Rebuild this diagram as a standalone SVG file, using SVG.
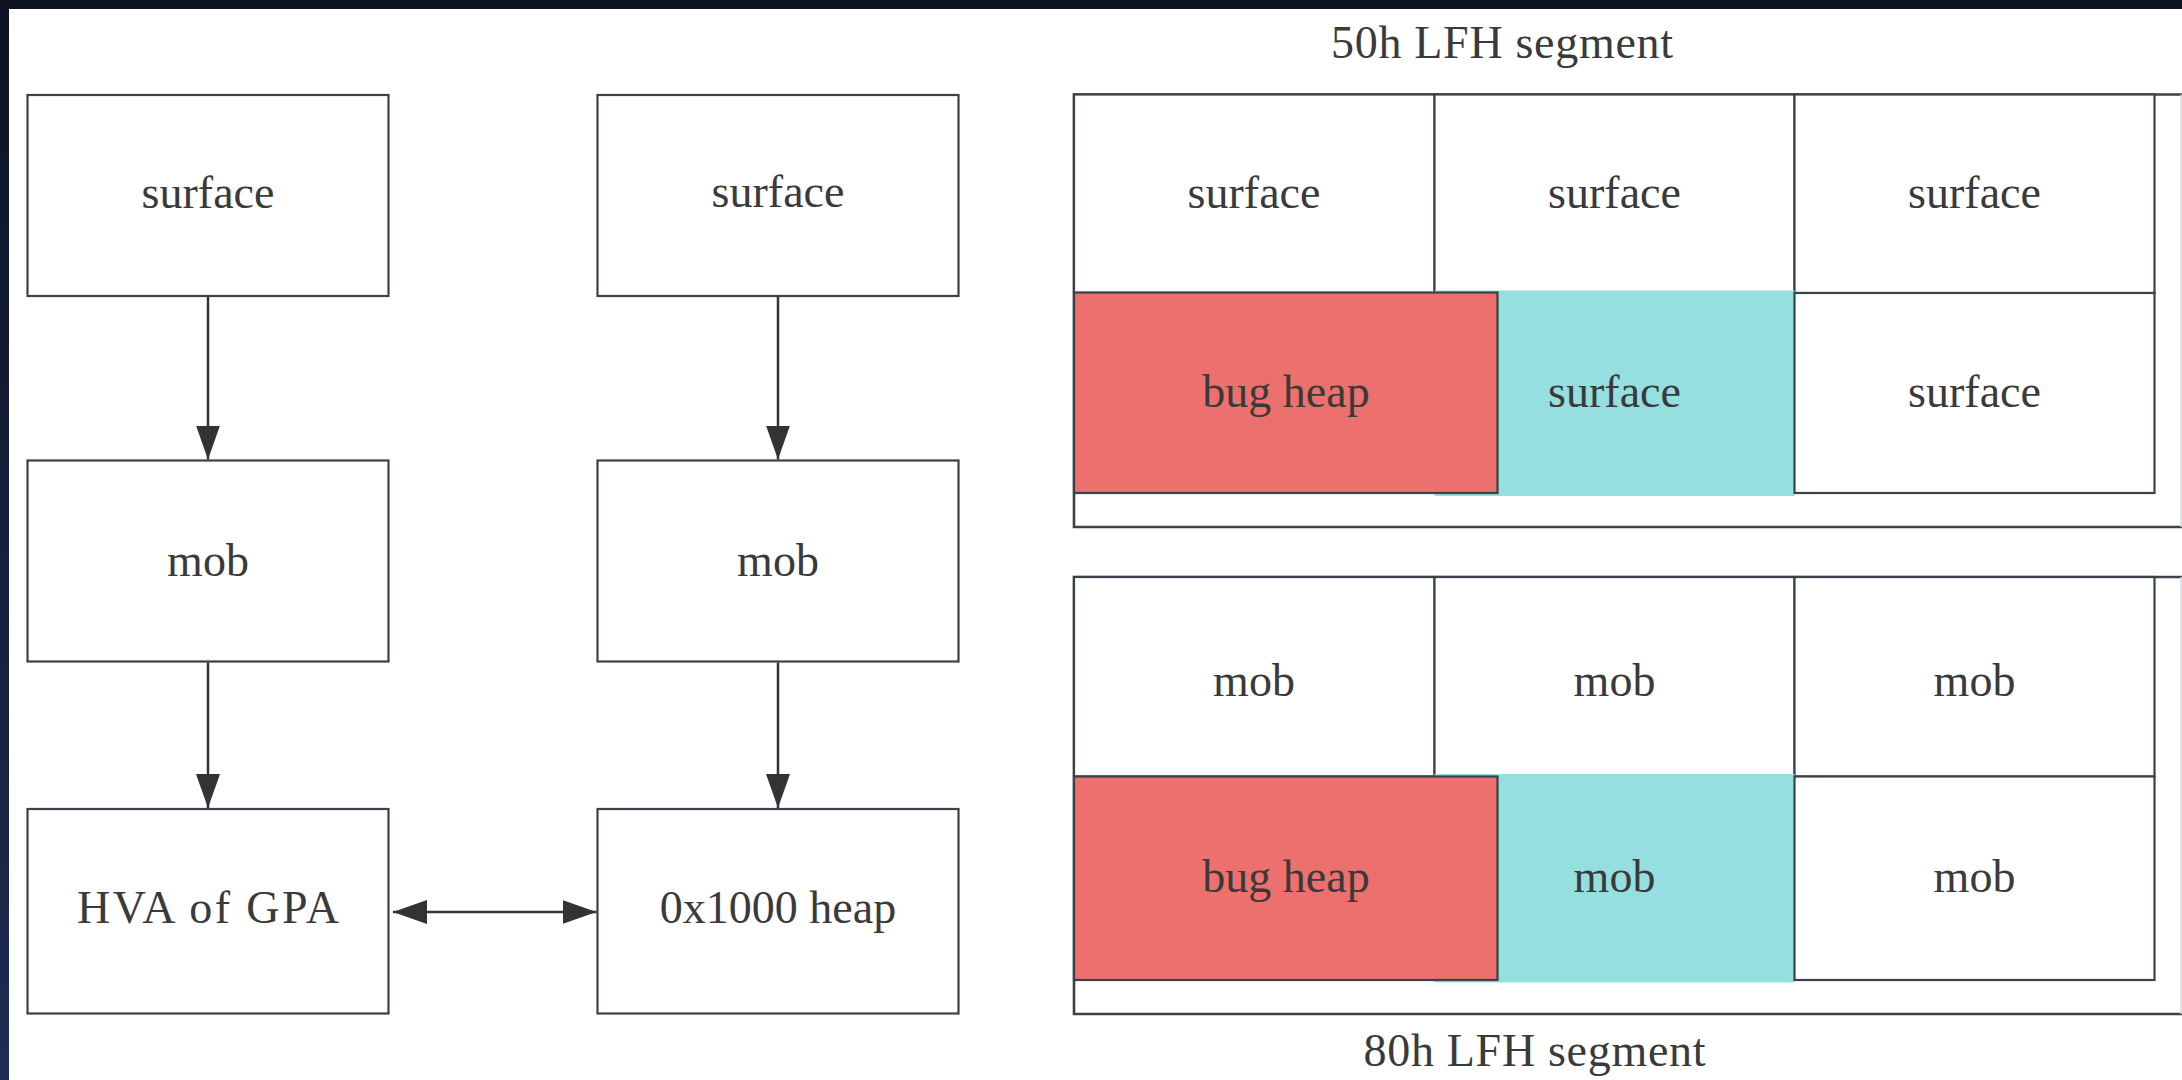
<svg xmlns="http://www.w3.org/2000/svg" width="2182" height="1080" viewBox="0 0 2182 1080">
  <defs>
    <linearGradient id="sideGrad" x1="0" y1="0" x2="0" y2="1">
      <stop offset="0" stop-color="#0e1322"/>
      <stop offset="1" stop-color="#1e2c54"/>
    </linearGradient>
    <marker id="arrow" markerUnits="userSpaceOnUse" markerWidth="34" markerHeight="24" refX="34" refY="12" orient="auto-start-reverse" viewBox="0 0 34 24">
      <path d="M0,0 L34,12 L0,24 Z" fill="#333333"/>
    </marker>
    <style>
      .box { fill: #ffffff; stroke: #3b4148; stroke-width: 2.2; }
      .cell { fill: #ffffff; stroke: #3b4148; stroke-width: 2.2; }
      .frame { fill: none; stroke: #3b4148; stroke-width: 2.6; }
      .bug { fill: #ec706d; stroke: #3b4148; stroke-width: 2.2; }
      .hl { fill: #95dfe0; stroke: none; }
      .lbl { font-family: "Liberation Serif", "Times New Roman", serif; font-size: 46px; fill: #3a3a3a; text-anchor: middle; }
      .conn { stroke: #333333; stroke-width: 2.5; fill: none; }
    </style>
  </defs>

  <rect x="0" y="0" width="2182" height="1080" fill="#ffffff"/>
  <rect x="0" y="0" width="2182" height="9" fill="#0e1322"/>
  <rect x="0" y="0" width="9" height="1080" fill="url(#sideGrad)"/>

  <!-- Left flow column -->
  <g id="surface-a">
    <rect class="box" x="27.5" y="95" width="361" height="201"/>
    <text class="lbl" x="208" y="208">surface</text>
  </g>
  <g id="mob-a">
    <rect class="box" x="27.5" y="460.5" width="361" height="201"/>
    <text class="lbl" x="208" y="576">mob</text>
  </g>
  <g id="hva">
    <rect class="box" x="27.5" y="809" width="361" height="204.5"/>
    <text class="lbl" x="208" y="923" textLength="262" lengthAdjust="spacing">HVA of GPA</text>
  </g>

  <!-- Second flow column -->
  <g id="surface-b">
    <rect class="box" x="597.5" y="95" width="361" height="201"/>
    <text class="lbl" x="778" y="207">surface</text>
  </g>
  <g id="mob-b">
    <rect class="box" x="597.5" y="460.5" width="361" height="201"/>
    <text class="lbl" x="778" y="576">mob</text>
  </g>
  <g id="heap">
    <rect class="box" x="597.5" y="809" width="361" height="204.5"/>
    <text class="lbl" x="778" y="923">0x1000 heap</text>
  </g>

  <!-- Connectors -->
  <g id="connectors">
    <line class="conn" x1="208" y1="297" x2="208" y2="459.5" marker-end="url(#arrow)"/>
    <line class="conn" x1="208" y1="662.5" x2="208" y2="808" marker-end="url(#arrow)"/>
    <line class="conn" x1="778" y1="297" x2="778" y2="459.5" marker-end="url(#arrow)"/>
    <line class="conn" x1="778" y1="662.5" x2="778" y2="808" marker-end="url(#arrow)"/>
    <line class="conn" x1="393" y1="912" x2="596.5" y2="912" marker-start="url(#arrow)" marker-end="url(#arrow)"/>
  </g>

  <!-- 50h LFH segment -->
  <g id="seg50">
    <text class="lbl" x="1502" y="58" textLength="342" lengthAdjust="spacing">50h LFH segment</text>
    <path class="frame" d="M2182,94.5 H1074 V527 H2182"/>
    <line x1="2181" y1="94.5" x2="2181" y2="527" stroke="#d9dadc" stroke-width="1.5"/>
    <rect class="cell" x="1074" y="94.5" width="360.5" height="198.5"/>
    <rect class="cell" x="1434.5" y="94.5" width="360" height="198.5"/>
    <rect class="cell" x="1794.5" y="94.5" width="360" height="198.5"/>
    <rect class="hl" x="1434.5" y="290.5" width="360" height="205.5"/>
    <rect class="cell" x="1794.5" y="293" width="360" height="200"/>
    <rect class="bug" x="1074" y="292.5" width="423.5" height="200.5"/>
    <text class="lbl" x="1254" y="208">surface</text>
    <text class="lbl" x="1614.5" y="208">surface</text>
    <text class="lbl" x="1974.5" y="208">surface</text>
    <text class="lbl" x="1286" y="407">bug heap</text>
    <text class="lbl" x="1614.5" y="407">surface</text>
    <text class="lbl" x="1974.5" y="407">surface</text>
  </g>

  <!-- 80h LFH segment -->
  <g id="seg80">
    <path class="frame" d="M2182,577 H1074 V1014 H2182"/>
    <line x1="2181" y1="577" x2="2181" y2="1014" stroke="#d9dadc" stroke-width="1.5"/>
    <rect class="cell" x="1074" y="577" width="360.5" height="199.5"/>
    <rect class="cell" x="1434.5" y="577" width="360" height="199.5"/>
    <rect class="cell" x="1794.5" y="577" width="360" height="199.5"/>
    <rect class="hl" x="1434.5" y="774" width="360" height="208.5"/>
    <rect class="cell" x="1794.5" y="776.5" width="360" height="203.5"/>
    <rect class="bug" x="1074" y="776.5" width="423.5" height="203.5"/>
    <text class="lbl" x="1254" y="696">mob</text>
    <text class="lbl" x="1614.5" y="696">mob</text>
    <text class="lbl" x="1974.5" y="696">mob</text>
    <text class="lbl" x="1286" y="892">bug heap</text>
    <text class="lbl" x="1614.5" y="892">mob</text>
    <text class="lbl" x="1974.5" y="892">mob</text>
    <text class="lbl" x="1534.5" y="1066" textLength="342" lengthAdjust="spacing">80h LFH segment</text>
  </g>
</svg>
